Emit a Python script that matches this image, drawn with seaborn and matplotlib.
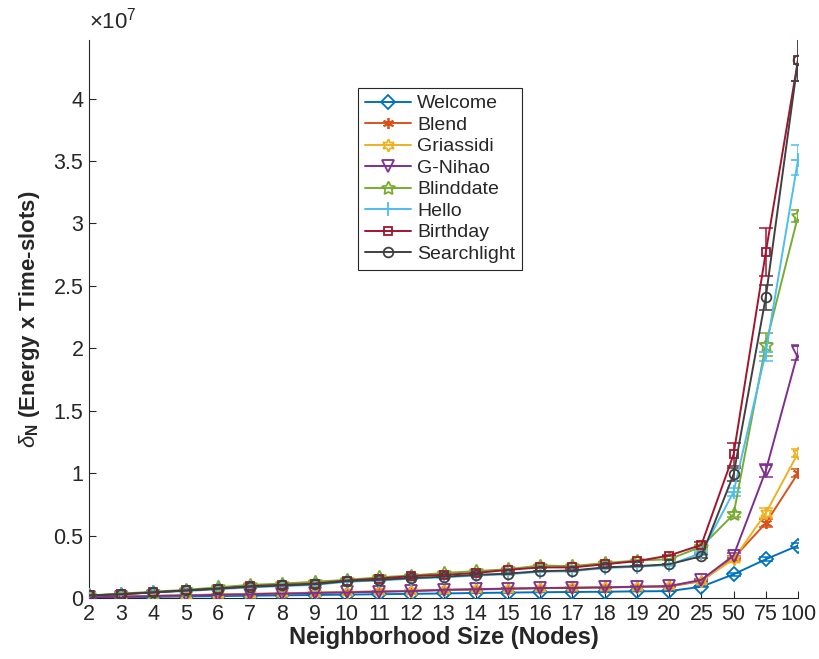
import matplotlib
matplotlib.use("Agg")
import matplotlib.pyplot as plt
import seaborn as sns
import pandas as pd
from matplotlib.ticker import FuncFormatter

# === Données (valeurs en unités de 1e7) ===
scale = 1e7
sizes = ['2', '3', '4', '5', '6', '7', '8', '9', '10', '11', '12', '13', '14', '15',
         '16', '17', '18', '19', '20', '25', '50', '75', '100']
protocols = ['Welcome', 'Blend', 'Griassidi', 'G-Nihao', 'Blinddate', 'Hello', 'Birthday', 'Searchlight']

welcome = [0.003, 0.006, 0.009, 0.012, 0.015, 0.018, 0.021, 0.024, 0.027, 0.030, 0.033, 0.036,
           0.040, 0.043, 0.046, 0.048, 0.050, 0.053, 0.055, 0.090, 0.19, 0.31, 0.42]
blend = [0.006, 0.012, 0.017, 0.022, 0.027, 0.032, 0.037, 0.042, 0.047, 0.052, 0.057, 0.063,
         0.068, 0.073, 0.078, 0.082, 0.085, 0.088, 0.092, 0.135, 0.32, 0.60, 1.00]
griassidi = [0.006, 0.012, 0.017, 0.022, 0.028, 0.033, 0.038, 0.043, 0.048, 0.053, 0.058, 0.065,
             0.070, 0.075, 0.080, 0.085, 0.088, 0.090, 0.095, 0.140, 0.31, 0.68, 1.16]
gnihao = [0.005, 0.010, 0.015, 0.020, 0.025, 0.030, 0.035, 0.040, 0.045, 0.050, 0.055, 0.065,
          0.070, 0.075, 0.080, 0.080, 0.085, 0.090, 0.095, 0.145, 0.34, 1.02, 1.97]
blinddate = [0.020, 0.035, 0.050, 0.065, 0.085, 0.105, 0.115, 0.130, 0.145, 0.165, 0.180, 0.200,
             0.215, 0.230, 0.260, 0.255, 0.280, 0.300, 0.310, 0.410, 0.67, 2.03, 3.06]
hello = [0.020, 0.030, 0.045, 0.055, 0.070, 0.085, 0.095, 0.105, 0.130, 0.140, 0.155, 0.165,
         0.180, 0.190, 0.210, 0.215, 0.240, 0.250, 0.265, 0.360, 0.85, 1.97, 3.51]
birthday = [0.020, 0.030, 0.045, 0.060, 0.075, 0.095, 0.105, 0.115, 0.140, 0.155, 0.175, 0.185,
            0.200, 0.225, 0.245, 0.245, 0.270, 0.295, 0.340, 0.425, 1.15, 2.77, 4.31]
searchlight = [0.020, 0.030, 0.045, 0.060, 0.075, 0.090, 0.100, 0.110, 0.135, 0.145, 0.160, 0.170,
               0.185, 0.195, 0.215, 0.220, 0.245, 0.255, 0.270, 0.335, 0.99, 2.41, 4.31]

# écarts (barres d'erreur), mêmes unités
err_welcome = [0.001] * 19 + [0.005, 0.01, 0.015, 0.02]
err_blend = [0.002] * 19 + [0.008, 0.015, 0.03, 0.03]
err_griassidi = [0.002] * 19 + [0.008, 0.015, 0.04, 0.03]
err_gnihao = [0.002] * 19 + [0.008, 0.02, 0.05, 0.06]
err_blinddate = [0.005] * 19 + [0.015, 0.02, 0.09, 0.05]
err_hello = [0.005] * 19 + [0.015, 0.03, 0.07, 0.12]
err_birthday = [0.005] * 19 + [0.02, 0.09, 0.19, 0.17]
err_searchlight = [0.005] * 19 + [0.015, 0.05, 0.10, 0.17]

values = [welcome, blend, griassidi, gnihao, blinddate, hello, birthday, searchlight]
errors = [err_welcome, err_blend, err_griassidi, err_gnihao, err_blinddate, err_hello,
          err_birthday, err_searchlight]

colors = ['#0072BD', '#D95319', '#EDB120', '#7E2F8E', '#77AC30', '#4DBEEE', '#A2142F', '#404040']
markers = ['D', (6, 2, 0), (6, 1, 0), 'v', (5, 1, 0), '+', 's', 'o']
msizes = [7, 8, 9, 8, 10, 10, 6, 7]

# === Style ===
sns.set_theme(style='ticks')
plt.rcParams['font.family'] = ['Liberation Sans', 'DejaVu Sans']
plt.rcParams['mathtext.fontset'] = 'custom'
plt.rcParams['mathtext.rm'] = 'Liberation Sans'
plt.rcParams['mathtext.it'] = 'Liberation Sans:italic'
plt.rcParams['mathtext.bf'] = 'Liberation Sans:bold'

fig = plt.figure(figsize=(8.19, 6.59), dpi=100)
ax = fig.add_axes([0.1087, 0.0926, 0.9744 - 0.1087, 0.9393 - 0.0926])

positions = list(range(len(sizes)))
for name, vals, errs, col, mk, ms in zip(protocols, values, errors, colors, markers, msizes):
    df = pd.DataFrame({'pos': positions, 'val': [v * scale for v in vals]})
    ax.errorbar(df['pos'], df['val'], yerr=[e * scale for e in errs], fmt='none',
                ecolor=col, elinewidth=1.1, capsize=5, capthick=1.1, zorder=2)
    sns.lineplot(data=df, x='pos', y='val', ax=ax, color=col, marker=mk, markersize=ms,
                 markeredgecolor=col, markerfacecolor='none', markeredgewidth=1.3,
                 linewidth=1.4, label=name, zorder=3)

ax.set_xlim(0, len(sizes) - 1)
ax.set_ylim(0, 4.47 * scale)
ax.set_xticks(positions)
ax.set_xticklabels(sizes)
ax.set_yticks([i * 0.5 * scale for i in range(9)])
ax.yaxis.set_major_formatter(FuncFormatter(lambda v, p: '%g' % (v / scale)))
ax.tick_params(direction='in', length=5, width=0.8, labelsize=15.5, colors='#262626', pad=4)

sns.despine(ax=ax)
for side in ['left', 'bottom']:
    ax.spines[side].set_color('#262626')
    ax.spines[side].set_linewidth(0.8)

ax.text(0.0, 1.012, r'$\times10^{7}$', transform=ax.transAxes, ha='left', va='bottom',
        fontsize=16, color='#262626')

ax.set_xlabel('Neighborhood Size (Nodes)', fontsize=17, fontweight='bold', color='#262626', labelpad=1)
ax.set_ylabel(r'$\delta_{\mathbf{N}}$ (Energy x Time-slots)', fontsize=16, fontweight='bold',
              color='#262626', labelpad=8)

leg = ax.legend(loc='upper left', bbox_to_anchor=(0.379, 0.914), borderaxespad=0,
                fontsize=14, frameon=True, fancybox=False, handlelength=2.4,
                handletextpad=0.3, labelspacing=0.2, borderpad=0.35)
leg.get_frame().set_edgecolor('#262626')
leg.get_frame().set_linewidth(0.8)
leg.get_frame().set_alpha(1)

fig.savefig('out.png', dpi=100)
plt.close(fig)
